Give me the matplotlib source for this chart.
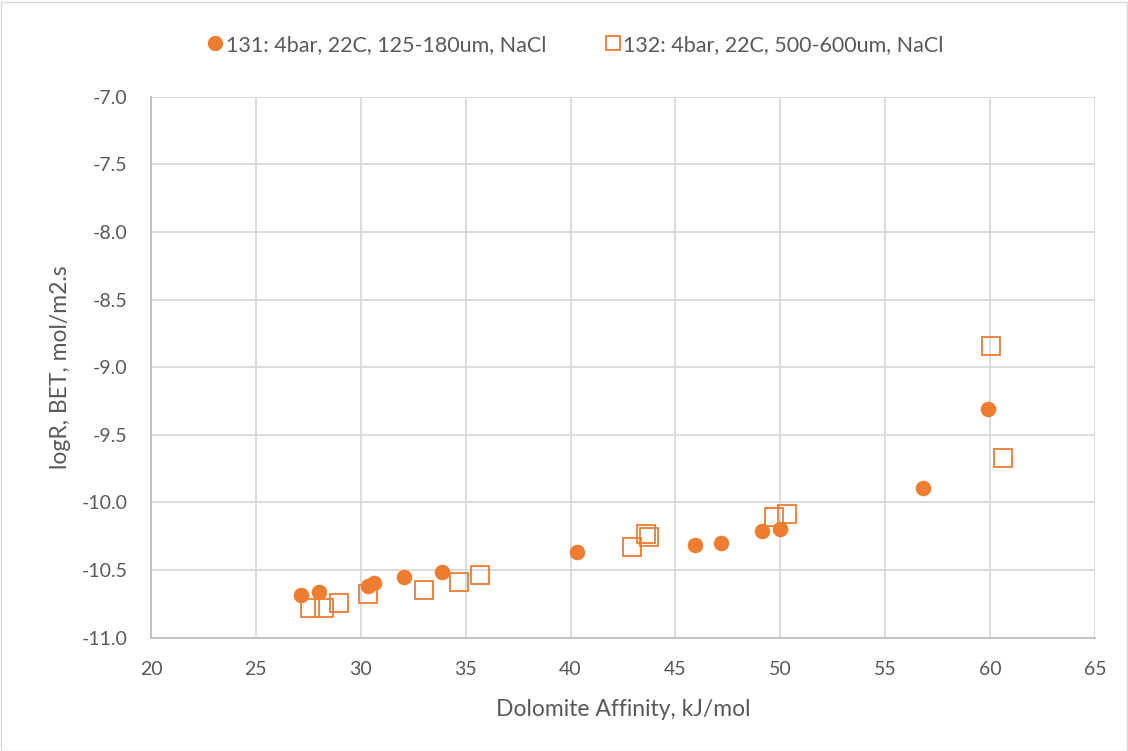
import matplotlib
matplotlib.use("Agg")
import matplotlib.pyplot as plt
from matplotlib.patches import Rectangle
from matplotlib.lines import Line2D

# Run 131: fine fraction
aff_131 = [27.13, 28.01, 30.35, 30.62, 32.08, 33.87, 40.29, 45.92, 47.18, 49.13, 49.99, 56.81, 59.92]
logr_131 = [-10.686, -10.659, -10.617, -10.593, -10.550, -10.516, -10.367, -10.311, -10.299, -10.210, -10.198, -9.896, -9.306]

# Run 132: coarse fraction
aff_132 = [27.57, 28.27, 28.94, 30.35, 33.00, 34.67, 35.70, 42.95, 43.60, 43.76, 49.71, 50.32, 60.05, 60.62]
logr_132 = [-10.778, -10.778, -10.741, -10.676, -10.647, -10.587, -10.538, -10.333, -10.232, -10.252, -10.111, -10.089, -8.844, -9.669]

label_131 = "131: 4bar, 22C, 125-180um, NaCl"
label_132 = "132: 4bar, 22C, 500-600um, NaCl"

x_ticks = [20, 25, 30, 35, 40, 45, 50, 55, 60, 65]
y_ticks = [-11.0, -10.5, -10.0, -9.5, -9.0, -8.5, -8.0, -7.5, -7.0]

orange = "#ED7D31"
text_col = "#595959"
grid_col = "#D9D9D9"
axis_col = "#BFBFBF"

plt.rcParams["font.family"] = ["Lato", "DejaVu Sans"]

W, H = 1128, 751
L, R, T, B = 151, 1095, 96.7, 637.7
fig = plt.figure(figsize=(W / 100, H / 100), dpi=100)
ax = fig.add_axes([L / W, 1 - B / H, (R - L) / W, (B - T) / H])

ax.plot(aff_131, logr_131, linestyle="none", marker="o", ms=11.2,
        color=orange, markeredgewidth=0, zorder=3)
ax.plot(aff_132, logr_132, linestyle="none", marker="s", ms=13.5,
        markerfacecolor="none", markeredgecolor=orange, markeredgewidth=1.3,
        zorder=3)

ax.set_xlim(20, 65)
ax.set_ylim(-11.0, -7.0)
ax.set_xticks(x_ticks)
ax.set_yticks(y_ticks)
ax.set_xticklabels([str(v) for v in x_ticks])
ax.set_yticklabels([f"{v:.1f}" for v in y_ticks])
ax.grid(True, color=grid_col, linewidth=1.3, zorder=0)
ax.set_axisbelow(True)
for side in ["top", "right"]:
    ax.spines[side].set_visible(False)
for side in ["bottom", "left"]:
    ax.spines[side].set_color(axis_col)
    ax.spines[side].set_linewidth(1.3)
ax.tick_params(length=0, labelsize=14, colors=text_col)
ax.tick_params(axis="y", pad=17)
ax.tick_params(axis="x", pad=17)

ax.set_xlabel("Dolomite Affinity, kJ/mol", fontsize=16.5, color=text_col)
ax.set_ylabel("logR, BET, mol/m2.s", fontsize=16.5, color=text_col)
ax.xaxis.set_label_coords((623 - L) / (R - L), (B - 699) / (B - T))
ax.yaxis.set_label_coords((71 - L) / (R - L), 0.5)

handles = [
    Line2D([], [], linestyle="none", marker="o", ms=11, color=orange, markeredgewidth=0),
    Line2D([], [], linestyle="none", marker="s", ms=10.5, markerfacecolor="none",
           markeredgecolor=orange, markeredgewidth=1.3),
]
leg = fig.legend(handles, [label_131, label_132], loc="center",
                 bbox_to_anchor=(575 / W, 1 - 45 / H), ncol=2,
                 frameon=False, fontsize=15.5, handletextpad=0.1, columnspacing=2.7,
                 handlelength=0.8)
for t in leg.get_texts():
    t.set_color(text_col)

# chart border
fig.patches.append(Rectangle((0.5 / W, 0.5 / H), (W - 2) / W, (H - 2) / H,
                             transform=fig.transFigure, fill=False,
                             edgecolor="#D9D9D9", linewidth=1.0))

fig.savefig("out.png", dpi=100)
